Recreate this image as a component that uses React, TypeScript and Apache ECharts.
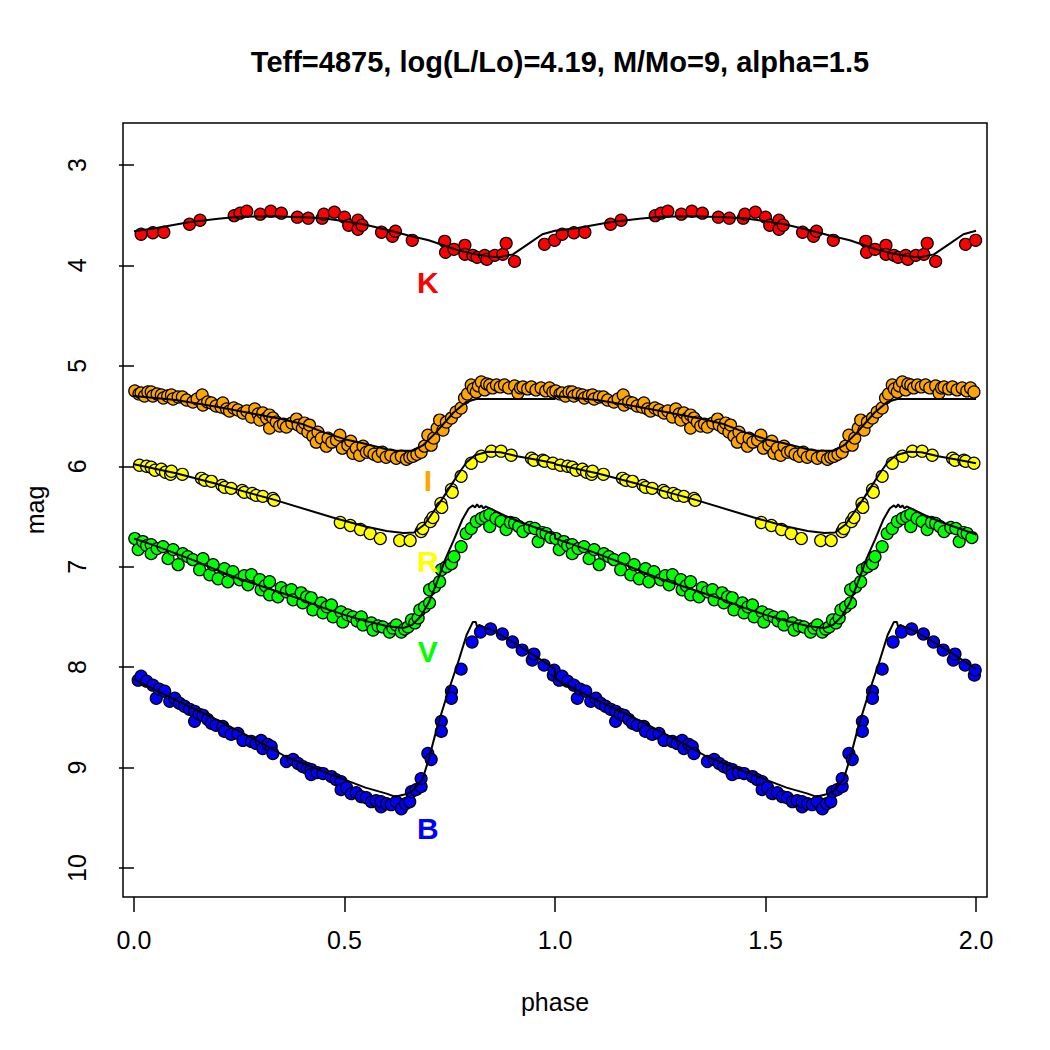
import React, { useEffect, useRef } from "react";
import * as echarts from "echarts";

const TITLE = "Teff=4875, log(L/Lo)=4.19, M/Mo=9, alpha=1.5";
const X_NAME = "phase";
const Y_NAME = "mag";
const xTicks = [0, 0.5, 1, 1.5, 2];
const yTicks = [3, 4, 5, 6, 7, 8, 9, 10];

// observed points, one cycle (phase 0..1); the plot shows two cycles
const kPoints: [number, number][] = [
  [0.017, 3.69], [0.045, 3.675], [0.071, 3.67], [0.132, 3.59], [0.157, 3.55], [0.238, 3.505],
  [0.252, 3.48], [0.268, 3.46], [0.300, 3.49], [0.325, 3.46], [0.350, 3.48], [0.388, 3.52],
  [0.414, 3.53], [0.447, 3.53], [0.451, 3.49], [0.476, 3.47], [0.500, 3.52], [0.510, 3.60],
  [0.532, 3.55], [0.532, 3.64], [0.542, 3.60], [0.588, 3.67], [0.614, 3.71], [0.621, 3.66],
  [0.661, 3.75], [0.738, 3.76], [0.740, 3.87], [0.760, 3.84], [0.786, 3.80], [0.786, 3.89],
  [0.805, 3.90], [0.815, 3.92], [0.833, 3.90], [0.838, 3.94], [0.857, 3.90], [0.876, 3.89],
  [0.884, 3.78], [0.904, 3.96], [0.975, 3.79], [0.999, 3.75],
];

const iPoints: [number, number][] = [
  [0.002, 5.25], [0.012, 5.28], [0.017, 5.27], [0.025, 5.30], [0.033, 5.26], [0.041, 5.26],
  [0.045, 5.30], [0.055, 5.28], [0.065, 5.29], [0.070, 5.32], [0.080, 5.30], [0.089, 5.29],
  [0.093, 5.33], [0.105, 5.31], [0.115, 5.31], [0.125, 5.34], [0.140, 5.36], [0.150, 5.33],
  [0.162, 5.29], [0.164, 5.39], [0.175, 5.36], [0.184, 5.37], [0.195, 5.40], [0.207, 5.41],
  [0.211, 5.37], [0.220, 5.43], [0.227, 5.45], [0.237, 5.42], [0.247, 5.44], [0.259, 5.47],
  [0.268, 5.45], [0.279, 5.51], [0.287, 5.43], [0.295, 5.48], [0.299, 5.54], [0.306, 5.47],
  [0.315, 5.52], [0.322, 5.49], [0.322, 5.62], [0.330, 5.52], [0.338, 5.56], [0.346, 5.60],
  [0.355, 5.58], [0.362, 5.61], [0.375, 5.57], [0.386, 5.53], [0.390, 5.59], [0.400, 5.62],
  [0.405, 5.57], [0.413, 5.66], [0.417, 5.59], [0.425, 5.70], [0.433, 5.76], [0.437, 5.66],
  [0.445, 5.72], [0.457, 5.80], [0.461, 5.72], [0.470, 5.76], [0.481, 5.74], [0.489, 5.69],
  [0.495, 5.82], [0.508, 5.79], [0.515, 5.75], [0.520, 5.87], [0.528, 5.82], [0.536, 5.89],
  [0.544, 5.80], [0.552, 5.86], [0.560, 5.85], [0.570, 5.88], [0.580, 5.90], [0.590, 5.86],
  [0.599, 5.91], [0.610, 5.89], [0.623, 5.92], [0.635, 5.90], [0.647, 5.93], [0.655, 5.91],
  [0.663, 5.90], [0.672, 5.88], [0.682, 5.86], [0.690, 5.80], [0.698, 5.69], [0.706, 5.79],
  [0.712, 5.72], [0.720, 5.62], [0.726, 5.54], [0.734, 5.64], [0.742, 5.56], [0.754, 5.52],
  [0.765, 5.46], [0.777, 5.42], [0.785, 5.32], [0.792, 5.28], [0.801, 5.19], [0.806, 5.23],
  [0.813, 5.26], [0.818, 5.20], [0.825, 5.16], [0.833, 5.24], [0.838, 5.18], [0.845, 5.19],
  [0.852, 5.22], [0.861, 5.19], [0.870, 5.21], [0.880, 5.19], [0.890, 5.22], [0.904, 5.20],
  [0.912, 5.27], [0.918, 5.22], [0.924, 5.21], [0.935, 5.23], [0.944, 5.21], [0.955, 5.24],
  [0.967, 5.22], [0.978, 5.25], [0.987, 5.22], [0.995, 5.26],
];

const rPoints: [number, number][] = [
  [0.013, 5.99], [0.030, 6.00], [0.041, 6.01], [0.050, 6.04], [0.065, 6.03], [0.075, 6.06],
  [0.087, 6.08], [0.089, 6.05], [0.115, 6.08], [0.160, 6.12], [0.168, 6.14], [0.184, 6.15],
  [0.209, 6.19], [0.215, 6.21], [0.231, 6.22], [0.257, 6.24], [0.262, 6.26], [0.281, 6.27],
  [0.290, 6.29], [0.306, 6.30], [0.330, 6.32], [0.333, 6.34], [0.490, 6.56], [0.514, 6.59],
  [0.538, 6.63], [0.561, 6.67], [0.585, 6.72], [0.631, 6.74], [0.656, 6.74], [0.682, 6.65],
  [0.686, 6.62], [0.704, 6.55], [0.710, 6.51], [0.729, 6.37], [0.731, 6.41], [0.754, 6.23],
  [0.756, 6.26], [0.777, 6.10], [0.801, 5.97], [0.825, 5.90], [0.849, 5.85], [0.872, 5.85],
  [0.896, 5.89], [0.944, 5.92], [0.950, 5.94], [0.971, 5.94], [0.975, 5.95], [0.995, 5.97],
];

const vPoints: [number, number][] = [
  [0.002, 6.72], [0.010, 6.83], [0.021, 6.75], [0.030, 6.79], [0.041, 6.78], [0.041, 6.87],
  [0.055, 6.82], [0.069, 6.80], [0.081, 6.92], [0.093, 6.83], [0.105, 6.98], [0.116, 6.87],
  [0.128, 6.90], [0.140, 6.93], [0.156, 7.03], [0.164, 6.92], [0.180, 7.08], [0.188, 6.98],
  [0.200, 7.12], [0.215, 7.02], [0.223, 7.15], [0.235, 7.05], [0.251, 7.13], [0.262, 7.09],
  [0.271, 7.18], [0.279, 7.08], [0.299, 7.13], [0.302, 7.23], [0.312, 7.19], [0.322, 7.15],
  [0.322, 7.28], [0.342, 7.30], [0.350, 7.21], [0.362, 7.25], [0.374, 7.23], [0.378, 7.33],
  [0.397, 7.26], [0.401, 7.36], [0.410, 7.30], [0.421, 7.31], [0.425, 7.43], [0.445, 7.36],
  [0.449, 7.46], [0.458, 7.40], [0.469, 7.38], [0.473, 7.50], [0.492, 7.45], [0.496, 7.55],
  [0.508, 7.48], [0.520, 7.50], [0.530, 7.54], [0.540, 7.50], [0.544, 7.58], [0.564, 7.56],
  [0.568, 7.63], [0.580, 7.59], [0.591, 7.60], [0.607, 7.65], [0.615, 7.61], [0.623, 7.58],
  [0.635, 7.65], [0.643, 7.62], [0.651, 7.60], [0.659, 7.53], [0.667, 7.56], [0.675, 7.51],
  [0.679, 7.43], [0.690, 7.40], [0.702, 7.36], [0.702, 7.23], [0.714, 7.20], [0.726, 7.15],
  [0.730, 7.03], [0.742, 7.00], [0.754, 6.97], [0.760, 6.90], [0.777, 6.80], [0.789, 6.67],
  [0.801, 6.62], [0.813, 6.55], [0.825, 6.52], [0.835, 6.50], [0.845, 6.48], [0.845, 6.60],
  [0.860, 6.52], [0.872, 6.55], [0.884, 6.63], [0.894, 6.56], [0.904, 6.57], [0.914, 6.60],
  [0.924, 6.65], [0.940, 6.61], [0.952, 6.62], [0.960, 6.75], [0.970, 6.66], [0.979, 6.67],
  [0.990, 6.71],
];

const bPoints: [number, number][] = [
  [0.010, 8.13], [0.017, 8.09], [0.030, 8.14], [0.045, 8.18], [0.053, 8.31], [0.060, 8.22],
  [0.073, 8.24], [0.085, 8.34], [0.097, 8.31], [0.108, 8.36], [0.120, 8.39], [0.132, 8.42],
  [0.144, 8.44], [0.144, 8.54], [0.155, 8.47], [0.164, 8.48], [0.175, 8.52], [0.184, 8.56],
  [0.195, 8.58], [0.211, 8.59], [0.215, 8.64], [0.231, 8.67], [0.247, 8.66], [0.259, 8.73],
  [0.279, 8.74], [0.290, 8.76], [0.302, 8.73], [0.306, 8.81], [0.318, 8.77], [0.326, 8.79],
  [0.330, 8.86], [0.362, 8.94], [0.378, 8.92], [0.390, 8.96], [0.401, 8.99], [0.412, 9.01],
  [0.421, 9.02], [0.421, 9.07], [0.435, 9.05], [0.449, 9.06], [0.469, 9.09], [0.480, 9.12],
  [0.492, 9.14], [0.492, 9.22], [0.505, 9.20], [0.516, 9.26], [0.528, 9.25], [0.540, 9.29],
  [0.552, 9.30], [0.564, 9.34], [0.575, 9.33], [0.587, 9.39], [0.587, 9.34], [0.600, 9.36],
  [0.611, 9.37], [0.623, 9.34], [0.635, 9.41], [0.645, 9.36], [0.655, 9.34], [0.659, 9.24],
  [0.670, 9.22], [0.682, 9.19], [0.682, 9.11], [0.698, 8.86], [0.706, 8.92], [0.730, 8.54],
  [0.730, 8.64], [0.754, 8.24], [0.754, 8.31], [0.777, 8.02], [0.803, 7.75], [0.823, 7.65],
  [0.847, 7.62], [0.875, 7.67], [0.899, 7.75], [0.922, 7.83], [0.946, 7.93], [0.950, 7.87],
  [0.974, 7.98], [0.996, 8.08], [0.998, 8.03],
];

// model light curves, one cycle
const kModel: [number, number][] = [
  [0, 3.66], [0.05, 3.63], [0.13, 3.57], [0.2, 3.535], [0.25, 3.515], [0.33, 3.51], [0.4, 3.52],
  [0.45, 3.53], [0.5, 3.56], [0.545, 3.59], [0.6, 3.645], [0.65, 3.70], [0.7, 3.75], [0.735, 3.80],
  [0.77, 3.85], [0.805, 3.885], [0.84, 3.91], [0.865, 3.92], [0.9, 3.89], [0.935, 3.79],
  [0.97, 3.69], [1.0, 3.655],
];
const iModel: [number, number][] = [
  [0, 5.30], [0.1, 5.34], [0.2, 5.41], [0.3, 5.49], [0.35, 5.53], [0.4, 5.58], [0.45, 5.66],
  [0.5, 5.73], [0.544, 5.77], [0.6, 5.83], [0.623, 5.845], [0.663, 5.845], [0.687, 5.79],
  [0.718, 5.66], [0.758, 5.47], [0.789, 5.36], [0.813, 5.33], [0.9, 5.33], [1.0, 5.33],
];
const rModel: [number, number][] = [
  [0, 5.98], [0.1, 6.07], [0.2, 6.18], [0.33, 6.33], [0.48, 6.52], [0.55, 6.60], [0.6, 6.645],
  [0.64, 6.665], [0.665, 6.66], [0.69, 6.58], [0.71, 6.46], [0.73, 6.34], [0.75, 6.21],
  [0.77, 6.08], [0.79, 5.96], [0.81, 5.89], [0.84, 5.855], [0.87, 5.86], [0.91, 5.90],
  [0.95, 5.93], [1.0, 5.97],
];
const vModel: [number, number][] = [
  [0, 6.72], [0.05, 6.79], [0.1, 6.87], [0.15, 6.95], [0.2, 7.04], [0.25, 7.12], [0.3, 7.19],
  [0.35, 7.26], [0.4, 7.33], [0.45, 7.41], [0.5, 7.48], [0.55, 7.54], [0.6, 7.59], [0.64, 7.61],
  [0.66, 7.58], [0.68, 7.50], [0.70, 7.36], [0.72, 7.15], [0.74, 6.92], [0.76, 6.73], [0.78, 6.53],
  [0.795, 6.42], [0.805, 6.39], [0.81, 6.41], [0.815, 6.38], [0.82, 6.41], [0.825, 6.39],
  [0.83, 6.42], [0.835, 6.40], [0.85, 6.43], [0.88, 6.49], [0.92, 6.56], [0.96, 6.62], [1.0, 6.68],
];
const bModel: [number, number][] = [
  [0, 8.12], [0.1, 8.33], [0.2, 8.53], [0.3, 8.75], [0.36, 8.89], [0.45, 9.04], [0.55, 9.20],
  [0.6, 9.26], [0.62, 9.29], [0.65, 9.26], [0.66, 9.24], [0.685, 9.12], [0.70, 8.92], [0.72, 8.60],
  [0.745, 8.26], [0.77, 7.95], [0.79, 7.68], [0.805, 7.55], [0.812, 7.55], [0.815, 7.60],
  [0.82, 7.58], [0.83, 7.60], [0.85, 7.63], [0.9, 7.75], [0.95, 7.88], [1.0, 8.02],
];

const bandNames = ["K", "I", "R", "V", "B"];
const bandColors = ["#FF0000", "#FFA500", "#FFFF00", "#00FF00", "#0000FF"];
const bandPoints = [kPoints, iPoints, rPoints, vPoints, bPoints];
const bandModels = [kModel, iModel, rModel, vModel, bModel];
const labelPhase = [0.698, 0.698, 0.698, 0.698, 0.698];
const labelMag = [4.175, 6.146, 6.953, 7.849, 9.61];

const FONT = "Liberation Sans, Arial, Helvetica, sans-serif";

// the reference repeats the folded cycle at phase + 1
const twoCycles = (pts: [number, number][]) => [
  ...pts,
  ...pts.map(([p, m]) => [p + 1, m] as [number, number]),
];

export default function App() {
  const ref = useRef<HTMLDivElement>(null);

  useEffect(() => {
    if (!ref.current) return;
    const chart = echarts.init(ref.current, undefined, { renderer: "svg" });

    const scatterSeries = bandNames.map((name, i) => ({
      name: name + " obs",
      type: "scatter",
      data: twoCycles(bandPoints[i]),
      symbol: "circle",
      symbolSize: 12,
      itemStyle: { color: bandColors[i], borderColor: "#000", borderWidth: 1.2, opacity: 1 },
      z: 2,
      silent: true,
    }));

    const lineSeries = bandNames.map((name, i) => ({
      name: name + " model",
      type: "line",
      data: twoCycles(bandModels[i]),
      showSymbol: false,
      symbol: "none",
      smooth: false,
      lineStyle: { color: "#000", width: 2 },
      z: 3,
      silent: true,
    }));

    const labelSeries = {
      name: "band labels",
      type: "scatter",
      symbolSize: 1,
      itemStyle: { color: "rgba(255,255,255,0)", opacity: 0 },
      z: 4,
      silent: true,
      data: bandNames.map((n, i) => ({
        value: [labelPhase[i], labelMag[i]],
        name: n,
        label: {
          show: true,
          position: "inside",
          formatter: n,
          color: bandColors[i],
          opacity: 1,
          textBorderWidth: 0,
          textBorderColor: "transparent",
          fontSize: 30,
          fontWeight: "bold",
          fontFamily: FONT,
        },
      })),
    };

    chart.setOption({
      animation: false,
      backgroundColor: "#fff",
      title: {
        text: TITLE,
        left: 555,
        top: 42,
        textAlign: "center",
        textStyle: { fontSize: 29, fontWeight: "bold", color: "#000", fontFamily: FONT },
      },
      grid: {
        left: 123,
        top: 123,
        width: 864,
        height: 774,
        show: true,
        borderColor: "#000",
        borderWidth: 1.5,
        backgroundColor: "transparent",
        containLabel: false,
      },
      xAxis: {
        type: "value",
        min: -0.026,
        max: 2.026,
        name: X_NAME,
        nameLocation: "middle",
        nameGap: 92,
        nameTextStyle: { fontSize: 25, color: "#000", fontFamily: FONT },
        axisLine: { show: false },
        splitLine: { show: false },
        axisTick: {
          show: true,
          inside: false,
          length: 15,
          customValues: xTicks,
          lineStyle: { color: "#000", width: 1.5 },
        },
        axisLabel: {
          show: true,
          customValues: xTicks,
          margin: 30,
          fontSize: 25,
          color: "#000",
          fontFamily: FONT,
          formatter: (v: number) => v.toFixed(1),
        },
      },
      yAxis: {
        type: "value",
        inverse: true,
        min: 2.582,
        max: 10.289,
        name: Y_NAME,
        nameLocation: "middle",
        nameGap: 76,
        nameTextStyle: { fontSize: 25, color: "#000", fontFamily: FONT },
        axisLine: { show: false },
        splitLine: { show: false },
        axisTick: {
          show: true,
          inside: false,
          length: 15,
          customValues: yTicks,
          lineStyle: { color: "#000", width: 1.5 },
        },
        axisLabel: {
          show: true,
          customValues: yTicks,
          rotate: 90,
          margin: 34,
          fontSize: 25,
          color: "#000",
          fontFamily: FONT,
          formatter: (v: number) => String(Math.round(v)),
        },
      },
      series: [...scatterSeries, ...lineSeries, labelSeries],
    });

    return () => chart.dispose();
  }, []);

  return (
    <div
      ref={ref}
      style={{ position: "absolute", left: 0, top: 0, width: 1050, height: 1050, background: "#fff" }}
    />
  );
}
